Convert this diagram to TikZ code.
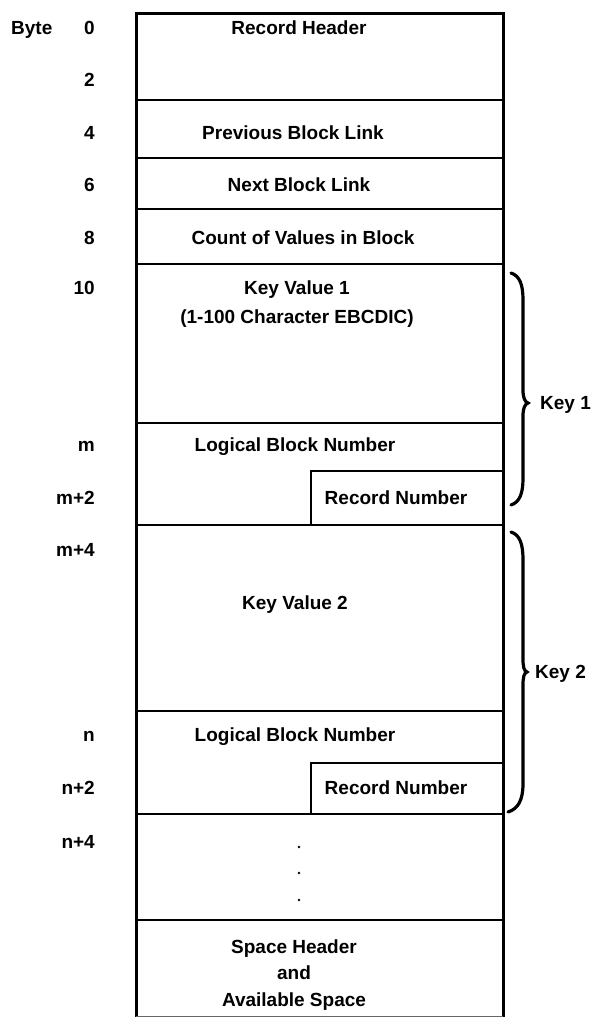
\documentclass[tikz,border=0pt]{standalone}
\usepackage{fontspec}
\setmainfont{Liberation Sans}
\begin{document}
\begin{tikzpicture}[x=1pt,y=-1pt,
  txt/.style={font=\fontsize{19}{22}\selectfont\bfseries, inner sep=0pt, text height=13.6pt, text depth=0pt},
  lbl/.style={txt, anchor=east},
  outer/.style={line width=3pt, line join=miter},
  row/.style={line width=1.8pt},
  inner/.style={line width=1.3pt},
  bracestyle/.style={line width=3.2pt, line cap=round},
  dotmark/.style={fill=black}]
\useasboundingbox (0,0) rectangle (593,1017);
% outer box
\draw[outer] (136,1017) -- (136,13) -- (503,13) -- (503,1017);
\draw[line width=1pt, black!60] (136,1016) -- (503,1016);
% row separators
\foreach \yy in {100,158,209,264,423,525,711,814,920}
  \draw[row] (136,\yy) -- (503,\yy);
% inner record-number boxes
\draw[inner] (311,525) -- (311,471) -- (503,471);
\draw[inner] (311,814) -- (311,763) -- (503,763);
% field texts
\node[txt] (rh)  at (299,28)  {Record Header};
\node[txt] (pbl) at (293,133) {Previous Block Link};
\node[txt] (nbl) at (299,185) {Next Block Link};
\node[txt] (cnt) at (303,238) {Count of Values in Block};
\node[txt] (kv1) at (297,288) {Key Value 1};
\node[txt] (kv1b) at (297,317) {(1-100 Character EBCDIC)};
\node[txt] (lbn1) at (295,445) {Logical Block Number};
\node[txt] (rn1) at (396,498) {Record Number};
\node[txt] (kv2) at (295,603) {Key Value 2};
\node[txt] (lbn2) at (295,735) {Logical Block Number};
\node[txt] (rn2) at (396,788) {Record Number};
\node[txt] (sh1) at (294,947) {Space Header};
\node[txt] (sh2) at (294,973) {and};
\node[txt] (sh3) at (294,1000) {Available Space};
% dots
\fill[dotmark] (299,847) circle (1.3pt);
\fill[dotmark] (299,873) circle (1.3pt);
\fill[dotmark] (299,900) circle (1.3pt);
% byte labels
\node[txt, anchor=west] (byte) at (11,28) {Byte};
\node[lbl] (b0) at (95,28) {0};
\node[lbl] (b2) at (95,80) {2};
\node[lbl] (b4) at (95,133) {4};
\node[lbl] (b6) at (95,185) {6};
\node[lbl] (b8) at (95,238) {8};
\node[lbl] (b10) at (95,288) {10};
\node[lbl] (bm) at (95,445) {m};
\node[lbl] (bm2) at (95,498) {m+2};
\node[lbl] (bm4) at (95,550) {m+4};
\node[lbl] (bn) at (95,735) {n};
\node[lbl] (bn2) at (95,788) {n+2};
\node[lbl] (bn4) at (95,842) {n+4};
% braces
\draw[bracestyle] (511,273) .. controls (520,276) and (523,285) .. (523,300)
  -- (523,390) .. controls (523,398) and (525,402) .. (528,403)
  .. controls (525,404) and (523,408) .. (523,416)
  -- (523,478) .. controls (523,493) and (520,502) .. (511,505);
\draw[bracestyle] (511,532) .. controls (520,535) and (523,544) .. (523,560)
  -- (523,659) .. controls (523,667) and (524,671) .. (527,672)
  .. controls (524,673) and (523,677) .. (523,685)
  -- (523,784) .. controls (523,800) and (518,809) .. (508,812);
\node[txt, anchor=west] (key1) at (540,403) {Key 1};
\node[txt, anchor=west] (key2) at (535,672) {Key 2};
\end{tikzpicture}
\end{document}
